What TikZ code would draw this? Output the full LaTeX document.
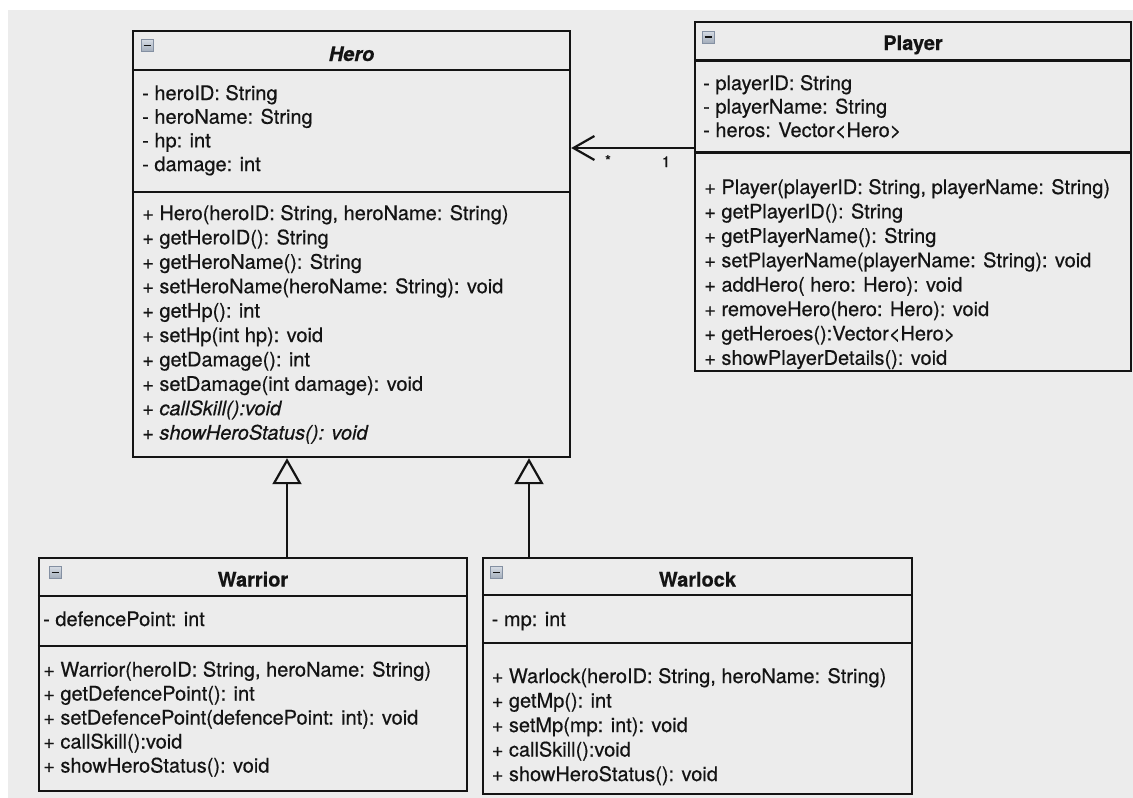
\documentclass[tikz,border=0pt]{standalone}
\usepackage{fontspec}
\setmainfont{TeX Gyre Heros}[FakeBold=0.5]
\usetikzlibrary{arrows.meta}
\definecolor{bg}{HTML}{ECECEC}
\definecolor{ink}{HTML}{141414}
\definecolor{icontop}{HTML}{D6DCE4}
\definecolor{iconbot}{HTML}{A3ADBB}
\definecolor{iconline}{HTML}{8490A2}
\begin{document}
\begin{tikzpicture}[x=1pt,y=-1pt,
  cls/.style={draw=ink, line width=2.4pt, fill=bg, inner sep=0pt},
  sepline/.style={draw=ink, line width=2.2pt},
  txt/.style={anchor=base west, inner sep=0pt, font=\fontsize{20}{24}\selectfont, text=ink},
  ttl/.style={anchor=base, inner sep=0pt, font=\fontsize{20}{24}\selectfont\bfseries, text=ink},
  mult/.style={anchor=base, inner sep=0pt, font=\fontsize{15}{17}\selectfont, text=ink},
  icon/.style={draw=iconline, line width=0.8pt, top color=icontop, bottom color=iconbot,
    minimum size=12pt, inner sep=0pt,
    path picture={\draw[ink, line width=1.5pt]
      ([xshift=-3.5pt]path picture bounding box.center) -- ([xshift=3.5pt]path picture bounding box.center);}},
  inh/.style={draw=ink, line width=2.2pt, -{Triangle[open, length=26pt, width=29pt, line width=2.2pt]}},
  assoc/.style={draw=ink, line width=2.2pt, -{Straight Barb[length=21pt, width=24pt, line width=2.2pt]}}
]
\useasboundingbox (0,0) rectangle (1133,798);
\fill[white] (0,0) rectangle (1133,798);
\fill[bg] (7.5,9.5) rectangle (1133,798);

% ---------- Hero ----------
\node[cls, minimum width=437pt, minimum height=426pt] (hero) at (351.5,244) {};
\coordinate (h1) at (0,70);
\coordinate (h2) at (0,192);
\draw[sepline] (hero.west |- h1) -- (hero.east |- h1);
\draw[sepline] (hero.west |- h2) -- (hero.east |- h2);
\node[icon] (hero-icon) at (147,45.5) {};
\node[ttl, font=\fontsize{20}{24}\selectfont\bfseries\itshape] (hero-title) at (351.5,61) {Hero};
\foreach \t [count=\i from 0] in {{- heroID: String},{- heroName: String},{- hp: int},{- damage: int}}
  \node[txt] (hero-a\i) at (142,{100+23.7*\i}) {\t};
\foreach \t [count=\i from 0] in {{+ Hero(heroID: String, heroName: String)},{+ getHeroID(): String},
  {+ getHeroName(): String},{+ setHeroName(heroName: String): void},{+ getHp(): int},
  {+ setHp(int hp): void},{+ getDamage(): int},{+ setDamage(int damage): void},
  {\itshape + callSkill():void},{\itshape + showHeroStatus(): void}}
  \node[txt] (hero-m\i) at (142,{220+24.4*\i}) {\t};

% ---------- Player ----------
\node[cls, minimum width=436pt, minimum height=349pt] (player) at (913,196.5) {};
\coordinate (p1) at (0,60.5);
\coordinate (p2) at (0,152.5);
\draw[sepline] (player.west |- p1) -- (player.east |- p1);
\draw[sepline] (player.west |- p2) -- (player.east |- p2);
\node[icon] (player-icon) at (708,37) {};
\node[ttl] (player-title) at (913,50) {Player};
\foreach \t [count=\i from 0] in {{- playerID: String},{- playerName: String},{- heros: Vector<Hero>}}
  \node[txt] (player-a\i) at (703,{90+23.5*\i}) {\t};
\foreach \t [count=\i from 0] in {{+ Player(playerID: String, playerName: String)},{+ getPlayerID(): String},
  {+ getPlayerName(): String},{+ setPlayerName(playerName: String): void},{+ addHero( hero: Hero): void},
  {+ removeHero(hero: Hero): void},{+ getHeroes():Vector<Hero>},{+ showPlayerDetails(): void}}
  \node[txt] (player-m\i) at (704,{194+24.4*\i}) {\t};

% ---------- Warrior ----------
\node[cls, minimum width=428pt, minimum height=233pt] (warrior) at (253,674.5) {};
\coordinate (w1) at (0,596);
\coordinate (w2) at (0,646);
\draw[sepline] (warrior.west |- w1) -- (warrior.east |- w1);
\draw[sepline] (warrior.west |- w2) -- (warrior.east |- w2);
\node[icon] (warrior-icon) at (55,572.5) {};
\node[ttl] (warrior-title) at (253,586.5) {Warrior};
\node[txt] (warrior-a0) at (43,626) {- defencePoint: int};
\foreach \t [count=\i from 0] in {{+ Warrior(heroID: String, heroName: String)},{+ getDefencePoint(): int},
  {+ setDefencePoint(defencePoint: int): void},{+ callSkill():void},{+ showHeroStatus(): void}}
  \node[txt] (warrior-m\i) at (43,{676.5+24*\i}) {\t};

% ---------- Warlock ----------
\node[cls, minimum width=429pt, minimum height=236pt] (warlock) at (697.5,676) {};
\coordinate (k1) at (0,595);
\coordinate (k2) at (0,643);
\draw[sepline] (warlock.west |- k1) -- (warlock.east |- k1);
\draw[sepline] (warlock.west |- k2) -- (warlock.east |- k2);
\node[icon] (warlock-icon) at (496.5,572.5) {};
\node[ttl] (warlock-title) at (697.5,586.5) {Warlock};
\node[txt] (warlock-a0) at (491.5,626) {- mp: int};
\foreach \t [count=\i from 0] in {{+ Warlock(heroID: String, heroName: String)},{+ getMp(): int},
  {+ setMp(mp: int): void},{+ callSkill():void},{+ showHeroStatus(): void}}
  \node[txt] (warlock-m\i) at (491.5,{683+24.5*\i}) {\t};

% ---------- connectors ----------
\coordinate (wx) at (287,0);
\coordinate (kx) at (529,0);
\coordinate (ay) at (0,148);
\draw[inh] (warrior.north -| wx) -- (hero.south -| wx);
\draw[inh] (warlock.north -| kx) -- (hero.south -| kx);
\draw[assoc] (player.west |- ay) -- (hero.east |- ay);
\node[mult] (mult-many) at (608,166) {*};
\node[mult] (mult-one) at (666,167) {1};
\end{tikzpicture}
\end{document}
